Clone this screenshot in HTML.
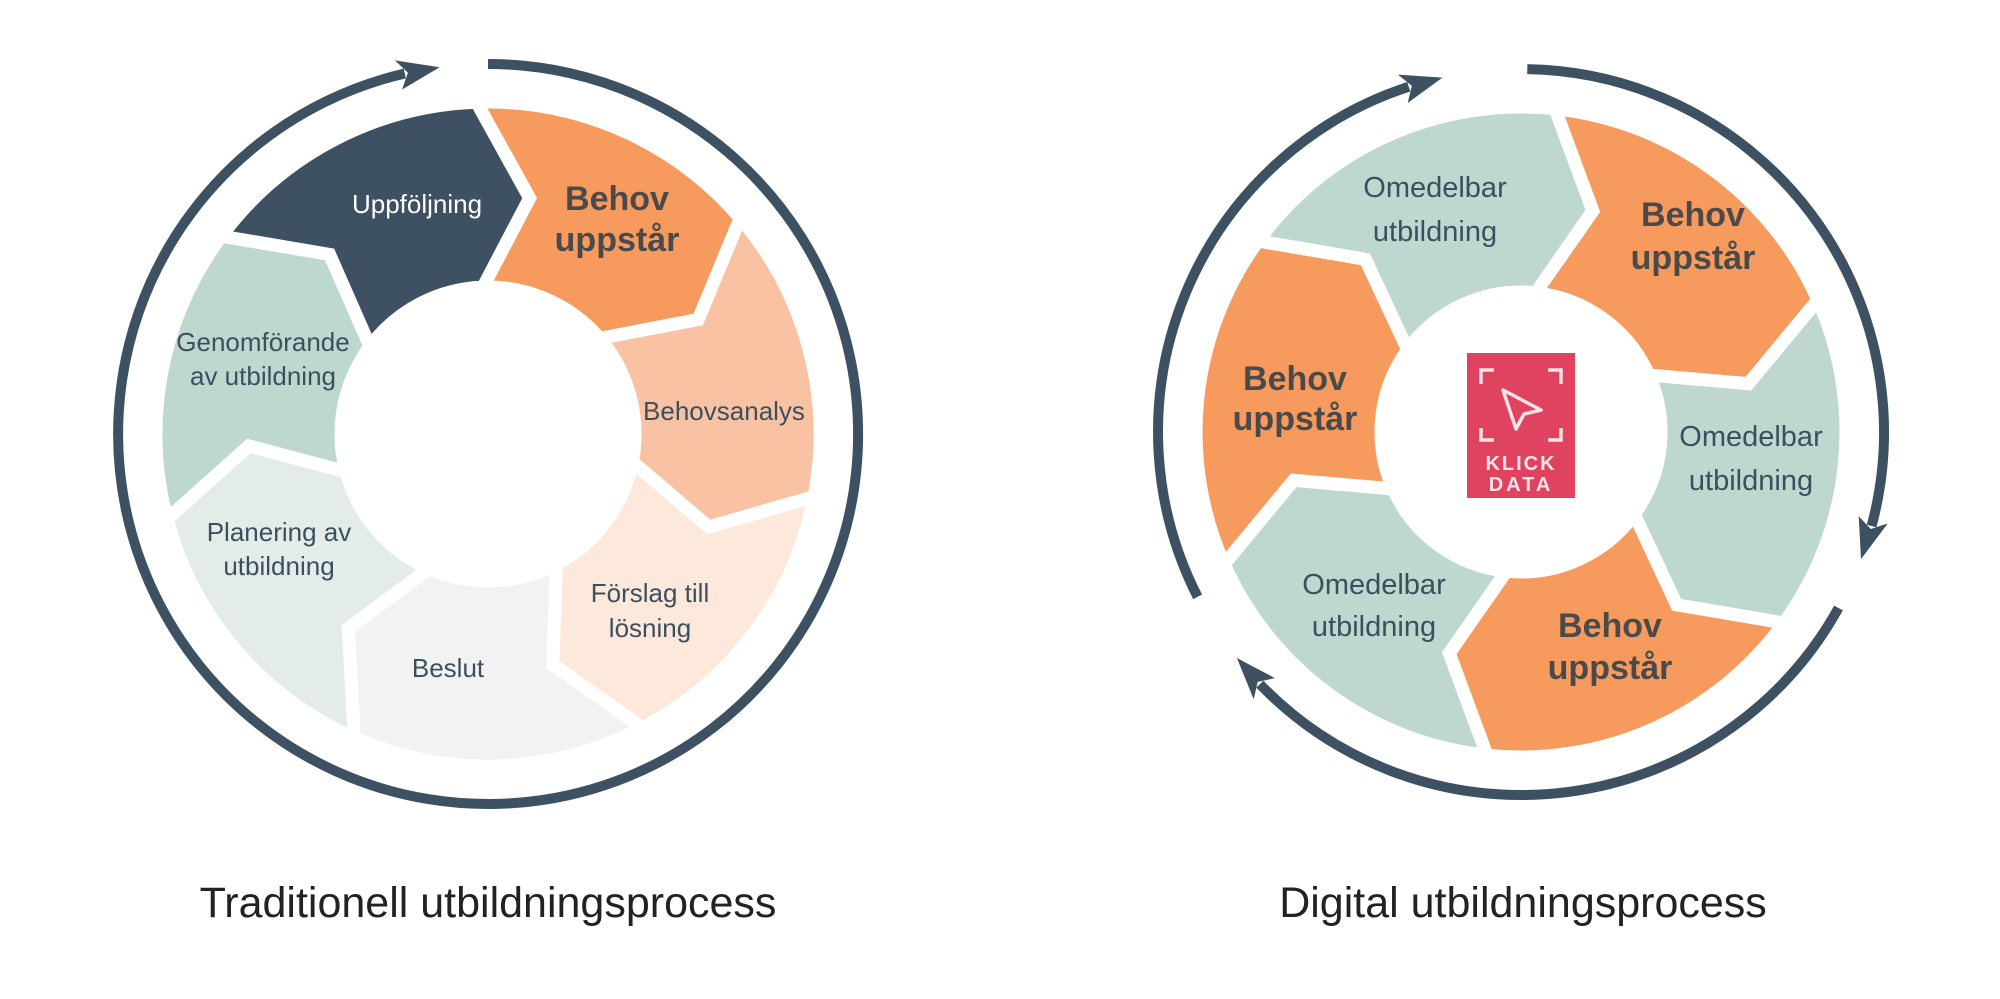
<!DOCTYPE html>
<html><head><meta charset="utf-8"><style>
html,body{margin:0;padding:0;background:#fff;}
svg{display:block;}
text{font-family:"Liberation Sans",sans-serif;}
</style></head><body>
<svg id="s" width="2000" height="999" viewBox="0 0 2000 999" xmlns="http://www.w3.org/2000/svg">
<g id="g"></g>
<g font-size="26" fill="#3d4f5e" text-anchor="middle">
<text x="417" y="213" fill="#ffffff">Uppföljning</text>
<text x="617" y="210" font-size="34" font-weight="bold" fill="#4a4a4a">Behov</text>
<text x="617" y="251" font-size="34" font-weight="bold" fill="#4a4a4a">uppstår</text>
<text x="724" y="420">Behovsanalys</text>
<text x="650" y="602">Förslag till</text>
<text x="650" y="637">lösning</text>
<text x="448" y="677">Beslut</text>
<text x="279" y="541">Planering av</text>
<text x="279" y="575">utbildning</text>
<text x="263" y="351">Genomförande</text>
<text x="263" y="385">av utbildning</text>

<text x="1435" y="197" font-size="29">Omedelbar</text>
<text x="1435" y="241" font-size="29">utbildning</text>
<text x="1751" y="446" font-size="29">Omedelbar</text>
<text x="1751" y="490" font-size="29">utbildning</text>
<text x="1374" y="594" font-size="29">Omedelbar</text>
<text x="1374" y="636" font-size="29">utbildning</text>
<text x="1693" y="226" font-size="34" font-weight="bold" fill="#4a4a4a">Behov</text>
<text x="1693" y="269" font-size="34" font-weight="bold" fill="#4a4a4a">uppstår</text>
<text x="1610" y="637" font-size="34" font-weight="bold" fill="#4a4a4a">Behov</text>
<text x="1610" y="679" font-size="34" font-weight="bold" fill="#4a4a4a">uppstår</text>
<text x="1295" y="390" font-size="34" font-weight="bold" fill="#4a4a4a">Behov</text>
<text x="1295" y="430" font-size="34" font-weight="bold" fill="#4a4a4a">uppstår</text>

<text x="488" y="917" font-size="43" fill="#222">Traditionell utbildningsprocess</text>
<text x="1523" y="917" font-size="43" fill="#222">Digital utbildningsprocess</text>
</g>
<g>
<rect x="1467" y="353" width="108" height="145" fill="#e0435f"/>
<g fill="none" stroke="#fbe3e7" stroke-width="3.5">
<path d="M1481 384 V370 H1494"/><path d="M1548 370 H1561 V384"/>
<path d="M1481 428 V440 H1494"/><path d="M1548 440 H1561 V428"/>
<path d="M1503 390 L1541 410 L1524 414 L1516 429 Z" stroke-linejoin="round"/>
</g>
<text x="1521" y="470" font-size="20" font-weight="bold" fill="#fbe3e7" text-anchor="middle" letter-spacing="2">KLICK</text>
<text x="1521" y="491" font-size="20" font-weight="bold" fill="#fbe3e7" text-anchor="middle" letter-spacing="3">DATA</text>
</g>
</svg>
<script>
var g=document.getElementById('g');var NS="http://www.w3.org/2000/svg";
function P(cx,cy,r,a){a=a*Math.PI/180;return [cx+r*Math.sin(a),cy-r*Math.cos(a)];}
function f(p){return p[0].toFixed(1)+' '+p[1].toFixed(1);}
function add(tag,attrs){var e=document.createElementNS(NS,tag);for(var k in attrs)e.setAttribute(k,attrs[k]);g.appendChild(e);return e;}
function seg(cx,cy,r0,r1,a0,a1,tip,col){
 var rm=(r0+r1)/2;
 var d='M'+f(P(cx,cy,r1,a0))+' A'+r1+' '+r1+' 0 0 1 '+f(P(cx,cy,r1,a1))+' L'+f(P(cx,cy,rm,a1+tip))+' L'+f(P(cx,cy,r0,a1))+' A'+r0+' '+r0+' 0 0 0 '+f(P(cx,cy,r0,a0))+' L'+f(P(cx,cy,rm,a0+tip))+' Z';
 add('path',{d:d,fill:col,stroke:'#fff','stroke-width':13,'stroke-linejoin':'miter'});
}
function ring(cx,cy,r,a0,a1,arrow){
 var large=((a1-a0+360)%360)>180?1:0;
 add('path',{d:'M'+f(P(cx,cy,r,a0))+' A'+r+' '+r+' 0 '+large+' 1 '+f(P(cx,cy,r,a1)),fill:'none',stroke:'#3d5163','stroke-width':10});
 if(arrow){
  var end=P(cx,cy,r,a1+5.5),b1=P(cx,cy,r-15,a1-1),b2=P(cx,cy,r+15,a1-1),m=P(cx,cy,r,a1+0.5);
  add('path',{d:'M'+f(end)+' L'+f(b1)+' L'+f(m)+' L'+f(b2)+' Z',fill:'#3d5163'});
 }
}
var L=[488,434],cols=['#f79a5e','#f9c3a3','#fde8dc','#f2f2f2','#e4ece9','#bed8d0','#3d5163'];
for(var k=0;k<7;k++){var a0=-2+51.43*k;seg(L[0],L[1],147,332,a0,a0+51.43,12,cols[k]);}
ring(L[0],L[1],370,0,347,true);
var R=[1521,432],rc=['#f79a5e','#bed8d0','#f79a5e','#bed8d0','#f79a5e','#bed8d0'];
for(var k=0;k<6;k++){var a0=6+60*k;seg(R[0],R[1],140,325,a0,a0+60,12,rc[k]);}
ring(R[0],R[1],363,243,342,true);
ring(R[0],R[1],363,1,105,true);
ring(R[0],R[1],363,119,226,true);
</script>
</body></html>
